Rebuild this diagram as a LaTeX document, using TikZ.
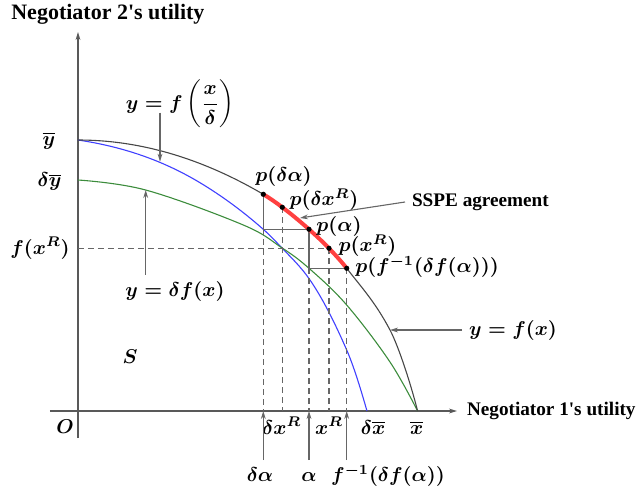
\documentclass[tikz,border=0pt]{standalone}
\usepackage{fontspec}
\setmainfont{Liberation Serif}
\usetikzlibrary{arrows.meta,positioning}
\definecolor{fgreen}{RGB}{60,140,60}
% the part of y = f(x) between p(delta alpha) and p(f^{-1}(delta f(alpha)))
\newcommand{\sspearc}{.. controls (191.63,213.01) and (197.97,208.48) .. (pdxr)
  .. controls (213.2,196.99) and (222.1,189.59) .. (pa)
  .. controls (237.67,175.79) and (244.33,169.63) .. (pxr)
  .. controls (256.9,156.56) and (262.8,150.25) .. (pfi)}

\begin{document}
\begin{tikzpicture}[
  x=0.5pt, y=0.5pt,
  >={Stealth[length=4pt,width=2.4pt]},
  axisline/.style={->, draw=black!65, line width=0.7pt},
  fline/.style={draw=black!72, line width=0.55pt},
  fdelta/.style={draw=blue!75, line width=0.55pt},
  dfline/.style={draw=fgreen, line width=0.55pt},
  sspe/.style={draw=red!75, line width=2pt},
  guide/.style={draw=black!60, line width=0.55pt, dash pattern=on 3pt off 2pt},
  stepline/.style={draw=black!60, line width=0.55pt},
  note/.style={->, draw=black!60, line width=0.55pt},
  pdot/.style={circle, fill=black, inner sep=0pt, minimum size=2.6pt},
  lab/.style={font=\fontsize{10}{12}\selectfont\boldmath},
  axtitle/.style={font=\fontsize{9.6}{11}\selectfont\bfseries}
]
\useasboundingbox (-78,-84) rectangle (560,411);

% axes
\coordinate (O) at (0,0);
\coordinate (xend) at (379,0);
\coordinate (yend) at (0,379);
\draw[axisline] (-28,0) -- (xend);
\draw[axisline] (0,-27) -- (yend);
\node[axtitle, right=1.5pt of xend] (xlab) {Negotiator 1\textquotesingle s utility};
\node[axtitle, font=\fontsize{11}{13}\selectfont\bfseries, anchor=east] (ylab) at (133.5,397) {Negotiator 2\textquotesingle s utility};

% points on y = f(x)
\coordinate (pda) at (185.3,216.7);
\coordinate (pdxr) at (204.3,203.7);
\coordinate (pa) at (231,181.7);
\coordinate (pxr) at (251,162.7);
\coordinate (pfi) at (268.7,142.7);
\coordinate (cda) at (pda |- pa);
\coordinate (ca) at (pa |- pfi);
\coordinate (cross) at (203.7,163.3);
\coordinate (yxr) at (0,162.7);
\coordinate (xda) at (185.3,0);
\coordinate (xdxr) at (204.3,0);
\coordinate (xa) at (231,0);
\coordinate (xxr) at (251,0);
\coordinate (xfi) at (268.7,0);

% the three curves
\draw[fdelta] (0,271) .. controls (40.67,264.9) and (81.33,252.7) .. (122,228.3)
  .. controls (143.1,215.64) and (164.2,200.27) .. (cda)
  .. controls (191.43,176.3) and (197.57,169.74) .. (cross)
  .. controls (213.13,153.4) and (222.57,144.68) .. (232,131)
  .. controls (244.23,113.26) and (256.47,89.14) .. (268.7,61)
  .. controls (275.47,45.44) and (282.23,23.68) .. (289,0);
\draw[dfline] plot[smooth, tension=0.6] coordinates {(0,231) (67.7,221) (165.3,186) (cross) (ca) (268.7,106) (312,49) (339.6,0)};
\draw[fline] (0,271) .. controls (61.77,271) and (123.53,252.9) .. (pda) \sspearc
  .. controls (283.1,124.2) and (297.6,108.4) .. (312,81)
  .. controls (321.2,63.5) and (333.6,24) .. (339.6,0);

% guide lines
\draw[guide] (yxr) -- (pxr);
\draw[guide] (cda) -- (xda);
\draw[guide] (pdxr) -- (xdxr);
\draw[guide] (ca) -- (xa);
\draw[guide] (pxr) -- (xxr);
\draw[guide] (pfi) -- (xfi);
\draw[stepline] (pda) -- (cda) -- (pa) -- (ca) -- (pfi);

% SSPE arc
\draw[sspe] (pda) \sspearc;
\foreach \p in {pda,pdxr,pa,pxr,pfi}
  \node[pdot] at (\p) {};

% labels of the points
\node[lab] (lpda) at (205.5,235) {$p(\delta\alpha)$};
\node[lab] (lpdxr) at (246,211) {$p(\delta x^R)$};
\node[lab] (lpa) at (261,185) {$p(\alpha)$};
\node[lab] (lpxr) at (289.5,165) {$p(x^R)$};
\node[lab] (lpfi) at (349,144.5) {$p(f^{-1}(\delta f(\alpha)))$};

% y-axis labels
\node[lab] (lyb) at (-29,270) {$\overline{y}$};
\node[lab] (ldyb) at (-28.5,229.3) {$\delta\overline{y}$};
\node[lab] (lfxr) at (-38,162.7) {$f(x^R)$};
\node[lab] (lO) at (-13,-16) {$O$};
\node[lab] (lS) at (52,54) {$S$};

% x-axis labels
\node[lab, anchor=base] (ldxr) at (203.7,-23) {$\delta x^R$};
\node[lab, anchor=base] (lxr) at (251,-23) {$x^R$};
\node[lab, anchor=base] (ldxb) at (295,-23) {$\delta\overline{x}$};
\node[lab, anchor=base] (lxb) at (338.7,-23) {$\overline{x}$};
\node[lab, anchor=base] (lda) at (182,-70.7) {$\delta\alpha$};
\node[lab, anchor=base] (lal) at (231,-70.7) {$\alpha$};
\node[lab, anchor=base] (lfi) at (310,-70.7) {$f^{-1}(\delta f(\alpha))$};
\coordinate (bda) at (185.3,-49);
\coordinate (bal) at (231,-49);
\coordinate (bfi) at (268.7,-49);
\draw[note] (bda) -- (xda);
\draw[note] (bal) -- (xa);
\draw[note] (bfi) -- (xfi);

% curve names
\node[lab] (lfxd) at (102,307) {$\displaystyle y=f\left(\frac{x}{\delta}\right)$};
\coordinate (sb) at (82,298.3);
\coordinate (tb) at (82,249.3);
\draw[note] (sb) -- (tb);
\node[lab] (ldf) at (97,119.3) {$y=\delta f(x)$};
\coordinate (tg) at (67.7,221);
\draw[note] (ldf.north -| tg) -- (tg);
\node[lab, anchor=west] (lyf) at (384,81) {$y=f(x)$};
\coordinate (tf) at (312,81);
\draw[note] (lyf) -- (tf);
\node[axtitle, anchor=west] (lsspe) at (327,209) {SSPE agreement};
\coordinate (ts) at (222,193);
\draw[note] (lsspe.west) -- (ts);
\end{tikzpicture}
\end{document}
